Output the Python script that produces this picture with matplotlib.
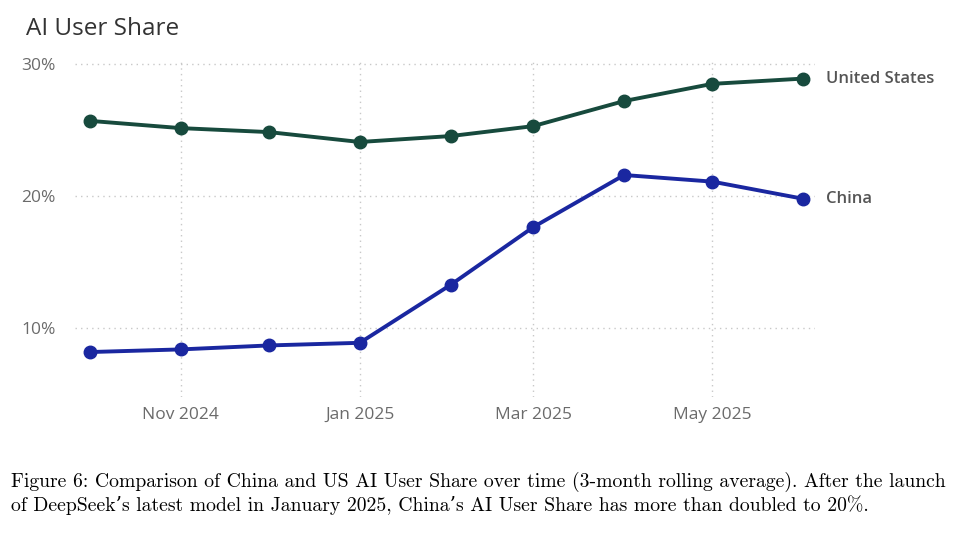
import numpy as np
import matplotlib.pyplot as plt
import matplotlib.dates as mdates
import pandas as pd

# monthly points, 3-month rolling average (values in %)
months = pd.to_datetime(['2024-10-01', '2024-11-01', '2024-12-01', '2025-01-01', '2025-02-01',
                         '2025-03-01', '2025-04-01', '2025-05-01', '2025-06-01'])
us_share = [25.7, 25.15, 24.85, 24.1, 24.55, 25.3, 27.2, 28.5, 28.9]
china_share = [8.2, 8.4, 8.7, 8.9, 13.3, 17.65, 21.6, 21.1, 19.8]
tick_months = pd.to_datetime(['2024-11-01', '2025-01-01', '2025-03-01', '2025-05-01'])
tick_labels = ['Nov 2024', 'Jan 2025', 'Mar 2025', 'May 2025']

us_color = '#174a3d'
cn_color = '#1a27a0'
grey = '#6b6b6b'

fig = plt.figure(figsize=(9.7, 5.35), dpi=100)
ax = fig.add_axes([0.0773, 0.258, 0.763, 0.626])

ax.plot(months, us_share, color=us_color, lw=2.8, marker='o', ms=9, solid_capstyle='round')
ax.plot(months, china_share, color=cn_color, lw=2.8, marker='o', ms=9, solid_capstyle='round')

ax.set_xlim(pd.Timestamp('2024-09-26'), pd.Timestamp('2025-06-05'))
ax.set_ylim(4.8, 30.15)
ax.set_yticks([10, 20, 30])
ax.set_yticklabels(['10%', '20%', '30%'])
ax.set_xticks(tick_months)
ax.set_xticklabels(tick_labels)

ax.grid(True, color='#c8c8c8', linestyle=(0, (1, 3)), lw=1)
for s in ax.spines.values():
    s.set_visible(False)
ax.tick_params(length=0, colors=grey, labelsize=12.5, pad=7)
ax.tick_params(axis='y', pad=14)
for lab in ax.get_xticklabels() + ax.get_yticklabels():
    lab.set_family('Open Sans')

# end labels
ax.annotate('United States', (months[-1], us_share[-1]), xytext=(16, 0), textcoords='offset points',
            va='center', ha='left', color='#555555', fontsize=12, family='Open Sans', fontweight='semibold')
ax.annotate('China', (months[-1], china_share[-1]), xytext=(16, 0), textcoords='offset points',
            va='center', ha='left', color='#555555', fontsize=12, family='Open Sans', fontweight='semibold')

fig.text(0.027, 0.945, 'AI User Share', fontsize=17.5, color='#333333', family='Open Sans', va='center')

caption = ("Figure 6: Comparison of China and US AI User Share over time (3-month rolling average). After the launch\n"
           "of DeepSeek\u2019s latest model in January 2025, China\u2019s AI User Share has more than doubled to 20%.")
fig.text(0.011, 0.077, caption, fontsize=14.2, family=['cmr10', 'DejaVu Serif'], color='black',
         va='center', ha='left', linespacing=1.2)

fig.savefig('out.png', dpi=100, facecolor='white')
